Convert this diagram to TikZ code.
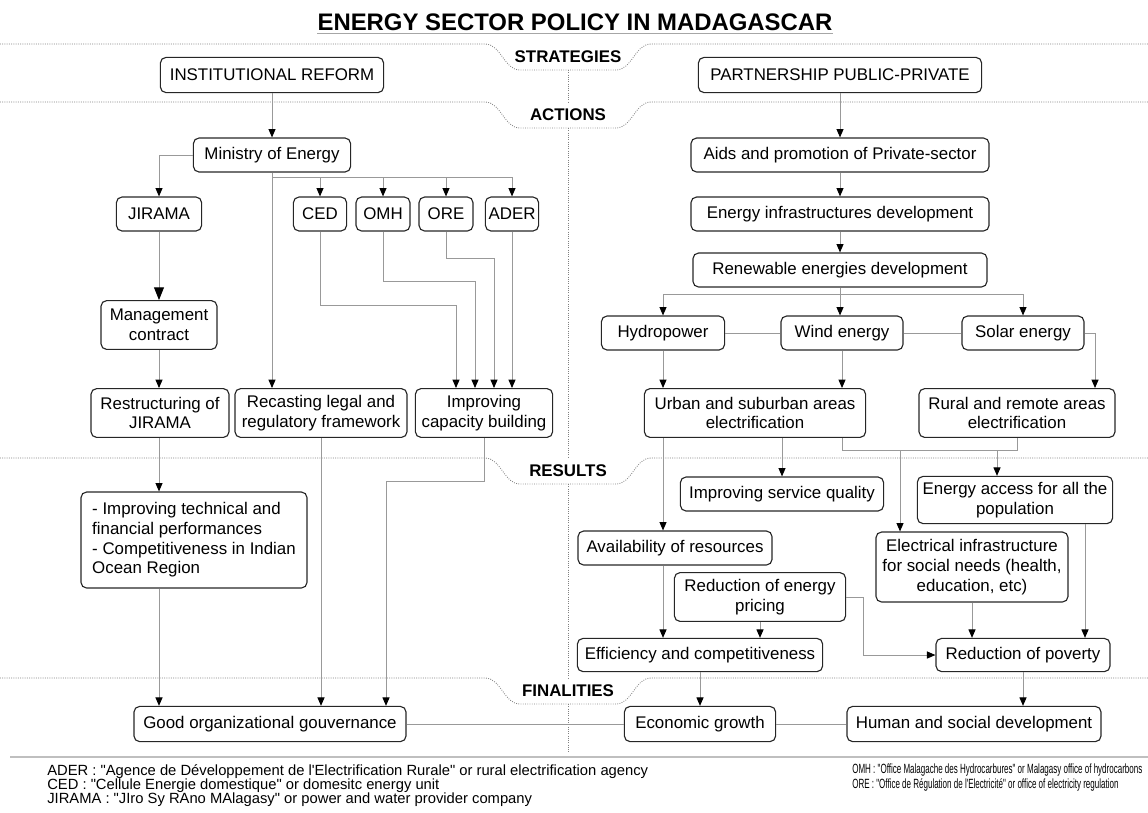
\documentclass[tikz,border=0pt]{standalone}
\usepackage{fontspec}
\usepackage{graphicx}
\setmainfont{Liberation Sans}
\usetikzlibrary{arrows.meta, positioning, calc}

\newcommand{\qt}{\textquotedbl}
\tikzset{
  box/.style={draw=black!85, line width=0.8pt, rounded corners=4pt, align=center,
    inner xsep=2pt, inner ysep=2pt, font=\fontsize{12}{14}\selectfont},
  link/.style={draw=gray!80, line width=0.7pt},
  arr/.style={link, -{Triangle[color=black, length=6pt, width=5pt]}},
  bigarr/.style={link, -{Triangle[color=black, length=9pt, width=7pt]}},
  band/.style={draw=gray, densely dotted, line width=0.6pt},
  bandlabel/.style={font=\fontsize{12}{14}\selectfont\bfseries},
  note/.style={font=\fontsize{10.5}{10}\selectfont, align=left, inner sep=0pt, anchor=north west},
  smallnote/.style={font=\fontsize{9.5}{10}\selectfont, inner sep=0pt, anchor=north west}
}

\begin{document}
\begin{tikzpicture}[x=0.025cm, y=-0.025cm]
\useasboundingbox (0,0) rectangle (1148,812);

% Title
\node[inner sep=0pt, font=\fontsize{17}{20}\selectfont\bfseries] (title) at (575,22) {ENERGY SECTOR POLICY IN MADAGASCAR};
\draw[gray!70, line width=1pt] ([yshift=-2pt]title.south west) -- ([yshift=-2pt]title.south east);

% Bands
\foreach \yy/\lbl in {44/STRATEGIES, 102/ACTIONS, 458/RESULTS, 678/FINALITIES} {
  \draw[band] (0,\yy) -- (485,\yy) .. controls (501,\yy) and (504,\yy+26) .. (520,\yy+26)
    -- (616,\yy+26) .. controls (632,\yy+26) and (635,\yy) .. (651,\yy) -- (1148,\yy);
  \node[bandlabel] (band\lbl) at (568,\yy+13) {\lbl};
}
\draw[band] (568,70) -- (568,102);
\draw[band] (568,128) -- (568,458);
\draw[band] (568,484) -- (568,678);
\draw[band] (568,704) -- (568,752);

% Strategies and actions
\node[box, minimum width=5.58cm, minimum height=0.88cm] (instref) at (272,75) {INSTITUTIONAL REFORM};
\node[box, minimum width=7.08cm, minimum height=0.88cm] (ppp) at (840,75) {PARTNERSHIP PUBLIC-PRIVATE};
\node[box, minimum width=3.93cm, minimum height=0.85cm] (moe) at (272,155) {Ministry of Energy};
\node[box, minimum width=7.45cm, minimum height=0.85cm] (aids) at (840,155) {Aids and promotion of Private-sector};
\node[box, minimum width=2.13cm, minimum height=0.85cm] (jirama) at (159,214) {JIRAMA};
\node[box, minimum width=1.33cm, minimum height=0.85cm] (ced) at (320,214) {CED};
\node[box, minimum width=1.35cm, minimum height=0.85cm] (omh) at (383,214) {OMH};
\node[box, minimum width=1.35cm, minimum height=0.85cm] (ore) at (446,214) {ORE};
\node[box, minimum width=1.33cm, minimum height=0.85cm] (ader) at (512,214) {ADER};
\node[box, minimum width=7.45cm, minimum height=0.85cm] (eid) at (840,214) {Energy infrastructures development};
\node[box, minimum width=7.35cm, minimum height=0.85cm] (red) at (840,270) {Renewable energies development};
\node[box, minimum width=3.08cm, minimum height=0.85cm] (hydro) at (663,333) {Hydropower};
\node[box, minimum width=3.05cm, minimum height=0.85cm] (wind) at (842,333) {Wind energy};
\node[box, minimum width=3.05cm, minimum height=0.85cm] (solar) at (1023,333) {Solar energy};
\node[box, minimum width=2.9cm, minimum height=1.22cm] (mgmt) at (159,325) {Management\\contract};
\node[box, minimum width=3.45cm, minimum height=1.22cm] (restr) at (160,413) {Restructuring of\\JIRAMA};
\node[box, minimum width=4.3cm, minimum height=1.22cm] (recast) at (321,413) {Recasting legal and\\regulatory framework};
\node[box, minimum width=3.43cm, minimum height=1.22cm] (capac) at (484,413) {Improving\\capacity building};
\node[box, minimum width=5.53cm, minimum height=1.22cm] (urban) at (755,413) {Urban and suburban areas\\electrification};
\node[box, minimum width=4.9cm, minimum height=1.22cm] (rural) at (1017,413) {Rural and remote areas\\electrification};

% Results
\node[box, minimum width=5.08cm, minimum height=0.85cm] (isq) at (782,494) {Improving service quality};
\node[box, minimum width=4.88cm, minimum height=1.18cm] (access) at (1015,500) {Energy access for all the\\population};
\node[box, align=left, inner xsep=8pt, minimum width=5.6cm, minimum height=2.4cm] (perf) at (194,540) {- Improving technical and\\financial performances\\- Competitiveness in Indian\\Ocean Region};
\node[box, minimum width=4.85cm, minimum height=0.85cm] (avail) at (675,548) {Availability of resources};
\node[box, minimum width=4.8cm, minimum height=1.75cm] (elec) at (972,567) {Electrical infrastructure\\for social needs (health,\\education, etc)};
\node[box, minimum width=4.28cm, minimum height=1.22cm] (pricing) at (760,597) {Reduction of energy\\pricing};
\node[box, minimum width=6.13cm, minimum height=0.83cm] (effic) at (700,655) {Efficiency and competitiveness};
\node[box, minimum width=4.35cm, minimum height=0.83cm] (poverty) at (1023,655) {Reduction of poverty};

% Finalities
\node[box, minimum width=6.8cm, minimum height=0.88cm] (gov) at (270,724) {Good organizational gouvernance};
\node[box, minimum width=3.78cm, minimum height=0.88cm] (econ) at (700,724) {Economic growth};
\node[box, minimum width=6.35cm, minimum height=0.88cm] (human) at (974,724) {Human and social development};

% Left connectors
\draw[arr] (instref) -- (moe);
\draw[arr] (moe.west) -| (jirama.north);
\coordinate (moebr) at ($(moe.south)+(0,5)$);
\draw[arr] (moe.south) -- (moe.south |- recast.north);
\foreach \org in {ced, omh, ore, ader}
  \draw[arr] (moebr) -| (\org.north);
\draw[bigarr] (jirama) -- (mgmt);
\draw[arr] (mgmt.south) -- (mgmt.south |- restr.north);
\draw[arr] (mgmt.south |- restr.south) -- (mgmt.south |- perf.north);
\draw[arr] (mgmt.south |- perf.south) -- (mgmt.south |- gov.north);
\foreach \org/\drop/\shift in {ced/74/-28, omh/50/-9, ore/27/10}
  \draw[arr] (\org.south) -- ++(0,\drop) -| ($(capac.north)+(\shift,0)$);
\draw[arr] (ader.south) -- (ader.south |- capac.north);
\draw[arr] (recast.south) -- (recast.south |- gov.north);
\coordinate (capbend) at ($(capac.south)+(-98,44)$);
\draw[arr] (capac.south) |- (capbend) -- (capbend |- gov.north);

% Right connectors
\draw[arr] (ppp) -- (aids);
\draw[arr] (aids) -- (eid);
\draw[arr] (eid) -- (red);
\coordinate (redbr) at ($(red.south)+(0,7)$);
\draw[arr] (red.south) -- (red.south |- wind.north);
\draw[arr] (redbr) -| (hydro.north);
\draw[arr] (redbr) -| (solar.north);
\draw[link] (hydro) -- (wind);
\draw[link] (wind) -- (solar);
\draw[arr] (hydro.south) -- (hydro.south |- urban.north);
\draw[arr] (wind.south) -- (wind.south |- urban.north);
\draw[arr] (solar.east) -| ($(rural.north)+(78,0)$);
\draw[arr] (hydro.south |- urban.south) -- (hydro.south |- avail.north);
\draw[arr] (isq.north |- urban.south) -- (isq.north);
\draw[link] (wind.south |- urban.south) -- ++(0,13) -| (rural.south);
\coordinate (joinline) at ($(urban.south)+(0,13)$);
\coordinate (elecin) at ($(elec.north)+(-72,0)$);
\coordinate (accessin) at ($(access.north)+(-18,0)$);
\draw[arr] (elecin |- joinline) -- (elecin);
\draw[arr] (accessin |- joinline) -- (accessin);
\coordinate (accessout) at ($(access.south)+(70,0)$);
\draw[arr] (accessout) -- (accessout |- poverty.north);
\draw[arr] (elec.south) -- (elec.south |- poverty.north);
\draw[arr] (hydro.south |- avail.south) -- (hydro.south |- effic.north);
\draw[arr] (pricing.south) -- (pricing.south |- effic.north);
\draw[arr] (pricing.east) -- ++(17,0) |- (poverty.west);
\draw[arr] (effic) -- (econ);
\draw[arr] (poverty.south) -- (poverty.south |- human.north);
\draw[link] (gov) -- (econ);
\draw[link] (econ) -- (human);

% Footnotes
\draw[gray!50, line width=0.8pt] (10,757) -- (1148,757);
\node[note] (notesleft) at (47,764) {ADER : \qt Agence de D\'eveloppement de l\textquotesingle Electrification Rurale\qt{} or rural electrification agency\\
CED : \qt Cellule Energie domestique\qt{} or domesitc energy unit\\
JIRAMA : \qt JIro Sy RAno MAlagasy\qt{} or power and water provider company};
\node[smallnote] (omhnote) at (852,764) {\scalebox{0.6}[1]{OMH : \qt Office Malagache des Hydrocarbures\qt{} or Malagasy office of hydrocarbons}};
\node[smallnote] (orenote) at (852,778) {\scalebox{0.6}[1]{ORE : \qt Office de R\'egulation de l\textquotesingle Electricit\'e\qt{} or office of electricity regulation}};

\end{tikzpicture}
\end{document}
